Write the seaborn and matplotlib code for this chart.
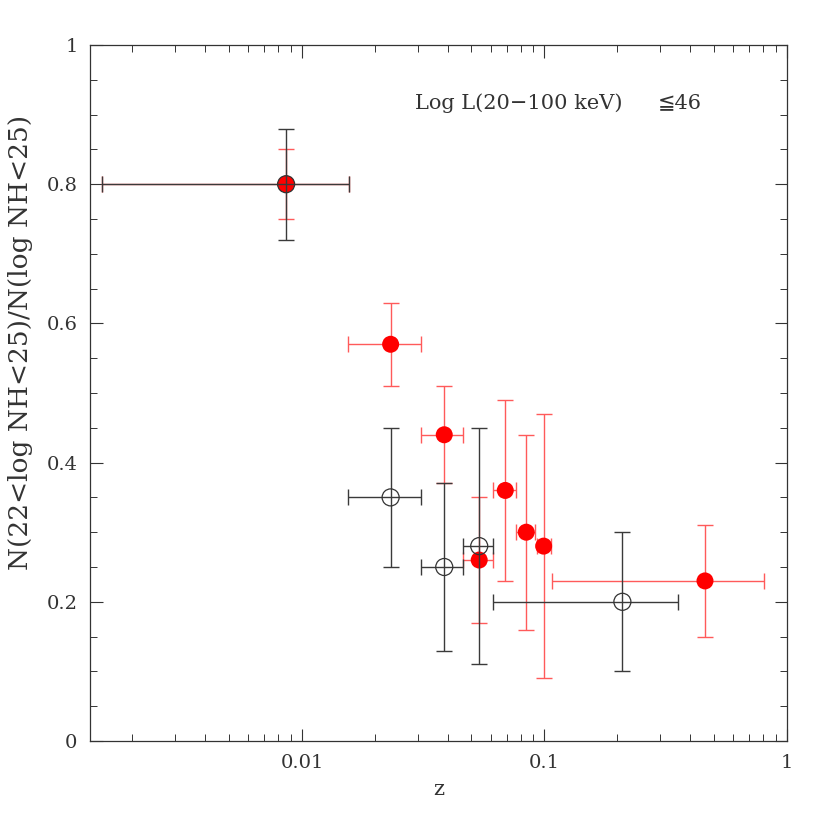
import numpy as np
import pandas as pd
import matplotlib
matplotlib.use("Agg")
import matplotlib.pyplot as plt
import seaborn as sns
from matplotlib.ticker import FixedLocator, MultipleLocator, LogLocator, NullFormatter

# ---- data ----
red_z = [0.0086, 0.0232, 0.0386, 0.0538, 0.0689, 0.0841, 0.0992, 0.459]
red_y = [0.80, 0.57, 0.44, 0.26, 0.36, 0.30, 0.28, 0.23]
red_zlo = [0.0015, 0.0155, 0.031, 0.0463, 0.0615, 0.0766, 0.093, 0.107]
red_zhi = [0.0156, 0.031, 0.0463, 0.0611, 0.0763, 0.0914, 0.1064, 0.806]
red_ylo = [0.75, 0.51, 0.37, 0.17, 0.23, 0.16, 0.09, 0.15]
red_yhi = [0.85, 0.63, 0.51, 0.35, 0.49, 0.44, 0.47, 0.31]

blk_z = [0.0086, 0.0232, 0.0386, 0.0538, 0.2095]
blk_y = [0.80, 0.35, 0.25, 0.28, 0.20]
blk_zlo = [0.0015, 0.0155, 0.031, 0.0463, 0.0615]
blk_zhi = [0.0156, 0.031, 0.0463, 0.0611, 0.356]
blk_ylo = [0.72, 0.25, 0.13, 0.11, 0.10]
blk_yhi = [0.88, 0.45, 0.37, 0.45, 0.30]

x_ticks = [0.01, 0.1, 1]
x_ticklabels = ["0.01", "0.1", "1"]
y_ticks = [0, 0.2, 0.4, 0.6, 0.8, 1]
y_ticklabels = ["0", "0.2", "0.4", "0.6", "0.8", "1"]

annotation_left = "Log L(20\u2212100 keV)"
annotation_right = "\u226646"
xlabel = "z"
ylabel = "N(22<log NH<25)/N(log NH<25)"

sns.set_theme(style="ticks")
plt.rcParams["font.family"] = ["DejaVu Serif", "DejaVu Sans"]

red = pd.DataFrame(dict(z=red_z, y=red_y))
blk = pd.DataFrame(dict(z=blk_z, y=blk_y))

fig = plt.figure(figsize=(8.3, 8.3), dpi=100)
ax = fig.add_axes([90/830, 1-741/830, (787-90)/830, (741-45)/830])
ax.set_xscale("log")
ax.set_xlim(0.001336, 1.0)
ax.set_ylim(0, 1)

def bars(z, y, zlo, zhi, ylo, yhi, color, zo):
    z = np.array(z); y = np.array(y)
    xerr = [z - np.array(zlo), np.array(zhi) - z]
    yerr = [y - np.array(ylo), np.array(yhi) - y]
    ax.errorbar(z, y, xerr=xerr, yerr=yerr, fmt="none", ecolor=color,
                elinewidth=1.0, capsize=5.8, capthick=1.0, zorder=zo)

bars(red_z, red_y, red_zlo, red_zhi, red_ylo, red_yhi, "#ff5a5a", 2)
sns.scatterplot(data=red, x="z", y="y", ax=ax, color="#ff0000", s=150,
                edgecolor="none", linewidth=0, zorder=3, legend=False)
bars(blk_z, blk_y, blk_zlo, blk_zhi, blk_ylo, blk_yhi, "#3a3a3a", 4)
sns.scatterplot(data=blk, x="z", y="y", ax=ax, facecolor="none", s=150,
                edgecolor="#333333", linewidth=0.9, zorder=5, legend=False)

ax.xaxis.set_major_locator(FixedLocator(x_ticks))
ax.set_xticklabels(x_ticklabels)
ax.xaxis.set_minor_locator(LogLocator(base=10, subs=np.arange(2, 10)))
ax.xaxis.set_minor_formatter(NullFormatter())
ax.yaxis.set_major_locator(FixedLocator(y_ticks))
ax.set_yticklabels(y_ticklabels)
ax.yaxis.set_minor_locator(MultipleLocator(0.05))

ax.tick_params(which="both", direction="in", top=True, right=True,
               colors="#333333", labelsize=14)
ax.tick_params(which="major", length=9, width=0.8, pad=9)
ax.tick_params(which="minor", length=5, width=0.7)
for s in ax.spines.values():
    s.set_color("#333333")
    s.set_linewidth(0.9)
    s.set_visible(True)

ax.set_xlabel(xlabel, fontsize=15, color="#333333", labelpad=6)
ax.set_ylabel(ylabel, fontsize=19, color="#333333")
ax.yaxis.set_label_coords(-0.082, 0.573)
ax.text(0.4663, 0.9167, annotation_left, transform=ax.transAxes, fontsize=15,
        color="#333333", ha="left", va="center")
ax.text(0.815, 0.9167, annotation_right, transform=ax.transAxes, fontsize=15,
        color="#333333", ha="left", va="center")

fig.savefig("out.png", dpi=100)
